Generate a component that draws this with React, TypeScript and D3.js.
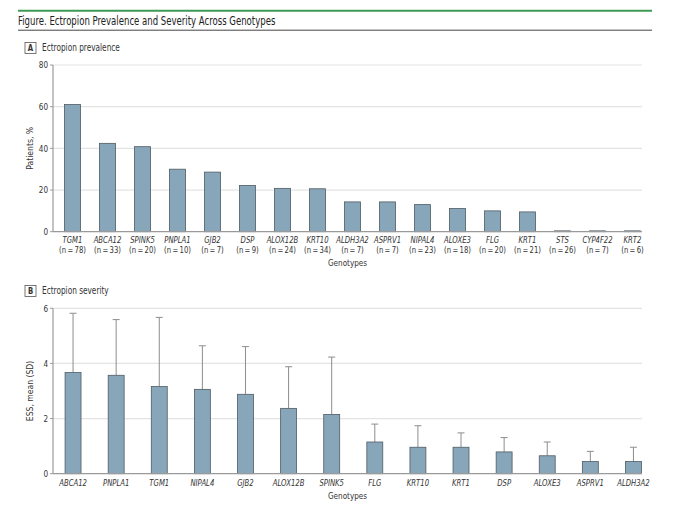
import * as d3 from "d3";
import React from "react";

// panel A: prevalence
const genesA = ["TGM1", "ABCA12", "SPINK5", "PNPLA1", "GJB2", "DSP", "ALOX12B", "KRT10", "ALDH3A2", "ASPRV1", "NIPAL4", "ALOXE3", "FLG", "KRT1", "STS", "CYP4F22", "KRT2"];
const countsA = [78, 33, 20, 10, 7, 9, 24, 34, 7, 7, 23, 18, 20, 21, 26, 7, 6];
const prevalence = [61, 42.4, 40.8, 30, 28.6, 22.2, 20.8, 20.6, 14.3, 14.3, 13, 11.1, 10, 9.5, 0.4, 0.4, 0.4];
const ticksA = [0, 20, 40, 60, 80];

// panel B: severity
const genesB = ["ABCA12", "PNPLA1", "TGM1", "NIPAL4", "GJB2", "ALOX12B", "SPINK5", "FLG", "KRT10", "KRT1", "DSP", "ALOXE3", "ASPRV1", "ALDH3A2"];
const essMean = [3.67, 3.57, 3.16, 3.06, 2.88, 2.37, 2.15, 1.15, 0.96, 0.96, 0.79, 0.65, 0.44, 0.44];
const essSD = [2.15, 2.02, 2.51, 1.58, 1.73, 1.51, 2.08, 0.65, 0.78, 0.52, 0.52, 0.5, 0.37, 0.52];
const ticksB = [0, 2, 4, 6];

const FONT = "'DejaVu Sans Condensed', 'Liberation Sans', sans-serif";
const BAR = "#88a6b9";
const BAR_EDGE = "#4f5b63";
const AXIS = "#9a9a9a";
const GRID = "#e4e4e4";
const TXT = "#333";

const axisX = 53;
const gridEnd = 642;

// narrowed text: the original uses a condensed face
function T({ x, y, size, sx = 0.85, anchor = "start", italic = false, bold = false, rotate = 0, fill = TXT, children }: any) {
  return (
    <text transform={`translate(${x},${y}) rotate(${rotate}) scale(${sx},1)`} fontSize={size} textAnchor={anchor}
      fontStyle={italic ? "italic" : "normal"} fontWeight={bold ? "bold" : "normal"} fill={fill}>
      {children}
    </text>
  );
}

function PanelLabel({ y, letter, text }: { y: number; letter: string; text: string }) {
  return (
    <g>
      <rect x={25} y={y} width={11} height={11} fill="#fff" stroke="#555" strokeWidth={0.8} />
      <T x={30.5} y={y + 8.6} size={9} anchor="middle" bold>{letter}</T>
      <T x={42} y={y + 8.6} size={10.5} sx={0.78}>{text}</T>
    </g>
  );
}

export default function App() {
  const yA = d3.scaleLinear().domain([0, 80]).range([231.7, 65]);
  const xA = d3.scaleBand<string>().domain(genesA).range([55, 650]).paddingInner(0.54).paddingOuter(0.27);

  const yB = d3.scaleLinear().domain([0, 6]).range([473.7, 308.3]);
  const xB = d3.scaleBand<string>().domain(genesB).range([51.5, 655]).paddingInner(0.63).paddingOuter(0.315);

  return (
    <svg width={680} height={505} style={{ position: "absolute", left: 0, top: 0 }} fontFamily={FONT}>
      <rect width={680} height={505} fill="#fff" />
      {/* header */}
      <line x1={18} x2={652} y1={10.7} y2={10.7} stroke="#3f9a55" strokeWidth={2} />
      <T x={18} y={24.5} size={12.5} sx={0.76} fill="#222">Figure. Ectropion Prevalence and Severity Across Genotypes</T>
      <line x1={18} x2={652} y1={30.2} y2={30.2} stroke="#444" strokeWidth={1} />

      {/* panel A */}
      <PanelLabel y={42.5} letter="A" text="Ectropion prevalence" />
      {ticksA.map((t) => (
        <g key={t}>
          {t > 0 && <line x1={axisX} x2={gridEnd} y1={yA(t)} y2={yA(t)} stroke={GRID} strokeWidth={1.2} />}
          <line x1={axisX - 3} x2={axisX} y1={yA(t)} y2={yA(t)} stroke={AXIS} />
          <T x={axisX - 5} y={yA(t) + 3.3} size={9.5} anchor="end">{t}</T>
        </g>
      ))}
      {genesA.map((g, i) => (
        <rect key={g} x={xA(g)} y={yA(prevalence[i])} width={xA.bandwidth()} height={yA(0) - yA(prevalence[i])}
          fill={BAR} stroke={BAR_EDGE} strokeWidth={0.8} />
      ))}
      <line x1={axisX} x2={axisX} y1={yA(80)} y2={yA(0)} stroke={AXIS} strokeWidth={1.2} />
      <line x1={axisX} x2={gridEnd} y1={yA(0)} y2={yA(0)} stroke={AXIS} strokeWidth={1.2} />
      {genesA.map((g, i) => {
        const cx = (xA(g) as number) + xA.bandwidth() / 2;
        return (
          <g key={g}>
            <T x={cx} y={243} size={9} anchor="middle" italic>{g}</T>
            <T x={cx} y={252.5} size={9} anchor="middle">{`(n\u2009=\u2009${countsA[i]})`}</T>
          </g>
        );
      })}
      <T x={347.5} y={265.5} size={9.5} anchor="middle">Genotypes</T>
      <T x={33} y={(yA(0) + yA(80)) / 2} size={9.5} anchor="middle" rotate={-90} sx={0.9}>Patients, %</T>

      {/* panel B */}
      <PanelLabel y={285.5} letter="B" text="Ectropion severity" />
      {ticksB.map((t) => (
        <g key={t}>
          {t > 0 && <line x1={axisX} x2={gridEnd} y1={yB(t)} y2={yB(t)} stroke={GRID} strokeWidth={1.2} />}
          <line x1={axisX - 3} x2={axisX} y1={yB(t)} y2={yB(t)} stroke={AXIS} />
          <T x={axisX - 5} y={yB(t) + 3.3} size={9.5} anchor="end">{t}</T>
        </g>
      ))}
      {genesB.map((g, i) => {
        const cx = (xB(g) as number) + xB.bandwidth() / 2;
        const top = yB(essMean[i] + essSD[i]);
        return (
          <g key={g}>
            <line x1={cx} x2={cx} y1={yB(essMean[i])} y2={top} stroke="#8d8d8d" strokeWidth={1} />
            <line x1={cx - 3.5} x2={cx + 3.5} y1={top} y2={top} stroke="#8d8d8d" strokeWidth={1} />
            <rect x={xB(g)} y={yB(essMean[i])} width={xB.bandwidth()} height={yB(0) - yB(essMean[i])}
              fill={BAR} stroke={BAR_EDGE} strokeWidth={0.8} />
          </g>
        );
      })}
      <line x1={axisX} x2={axisX} y1={yB(6)} y2={yB(0)} stroke={AXIS} strokeWidth={1.2} />
      <line x1={axisX} x2={gridEnd} y1={yB(0)} y2={yB(0)} stroke={AXIS} strokeWidth={1.2} />
      {genesB.map((g) => (
        <T key={g} x={(xB(g) as number) + xB.bandwidth() / 2} y={485.5} size={9} anchor="middle" italic>{g}</T>
      ))}
      <T x={347.5} y={499} size={9.5} anchor="middle">Genotypes</T>
      <T x={33} y={(yB(0) + yB(6)) / 2} size={9.5} anchor="middle" rotate={-90} sx={0.9}>ESS, mean (SD)</T>
    </svg>
  );
}
